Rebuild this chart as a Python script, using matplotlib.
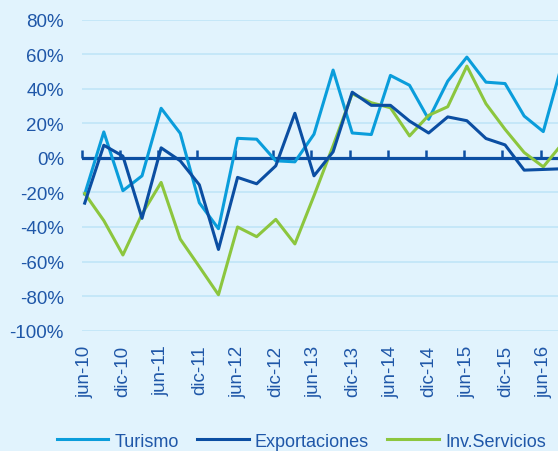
import matplotlib
matplotlib.use("Agg")
import matplotlib.pyplot as plt
import matplotlib.transforms as mtransforms
import numpy as np

periods = ["jun-10", "sep-10", "dic-10", "mar-11", "jun-11", "sep-11", "dic-11", "mar-12",
           "jun-12", "sep-12", "dic-12", "mar-13", "jun-13", "sep-13", "dic-13", "mar-14",
           "jun-14", "sep-14", "dic-14", "mar-15", "jun-15", "sep-15", "dic-15", "mar-16",
           "jun-16", "sep-16"]
turismo = [-21, 15, -19, -10.4, 28.7, 14.2, -26, -41, 11.3, 10.8, -1.7, -2.3, 13.7,
           50.8, 14.4, 13.5, 47.7, 42, 22.3, 44.4, 58.3, 43.8, 43, 24.2, 15.2, 55]
exportaciones = [-26.2, 7.3, 1, -35, 5.8, -1.7, -15.6, -53, -11.3, -15, -4.6, 25.8, -10.4,
                 3.5, 38, 30.4, 30.4, 21.3, 14.4, 23.7, 21.5, 11.2, 7.5, -7.1, -6.7, -6.3]
inv_servicios = [-20.6, -36.3, -56.2, -32.5, -14.2, -47, -63, -79.2, -40, -45.6, -35.6, -49.8,
                 -21.9, 7, 37.1, 31.9, 29, 12.7, 24.6, 29.6, 53.1, 31.3, 16.5, 3.1, -5.2, 8.3]
series_names = ["Turismo", "Exportaciones", "Inv.Servicios"]
yticks = [-100, -80, -60, -40, -20, 0, 20, 40, 60, 80]

BG = "#e1f3fd"
C_TUR = "#0a9ddb"
C_EXP = "#0b4ea2"
C_INV = "#8cc63e"
TXT = "#1f57a8"
GRID = "#bde4f7"

plt.rcParams['font.family'] = ['Liberation Sans', 'DejaVu Sans']
plt.rcParams['axes.unicode_minus'] = False

fig = plt.figure(figsize=(5.58, 4.52), dpi=100, facecolor=BG)
ax = fig.add_axes([0.147, 0.2662, 0.853, 0.6882])
ax.set_facecolor(BG)

x = np.arange(len(periods))
ax.axhline(0, color=C_EXP, lw=2.3, zorder=2)
ax.plot(x, turismo, color=C_TUR, lw=2.2, label=series_names[0], zorder=3)
ax.plot(x, exportaciones, color=C_EXP, lw=2.2, label=series_names[1], zorder=4)
ax.plot(x, inv_servicios, color=C_INV, lw=2.2, label=series_names[2], zorder=3)

ax.set_ylim(-100, 80)
ax.set_xlim(-0.14, 24.77)
ax.set_yticks(yticks)
ax.set_yticklabels([f"{v}%" for v in yticks])
ax.yaxis.grid(True, color=GRID, lw=1.1, zorder=0)
ax.set_axisbelow(True)
for s in ax.spines.values():
    s.set_visible(False)
ax.tick_params(axis='y', length=0, pad=13, labelsize=13.5, labelcolor=TXT)

tick_idx = x[::2]
tick_pos = tick_idx - 0.14
ax.set_xticks(tick_pos)
ax.set_xticklabels([periods[i] for i in tick_idx], rotation=90, va='top', ha='center')
ax.tick_params(axis='x', length=0, pad=10, labelsize=13.5, labelcolor=TXT)
offset = mtransforms.ScaledTranslation(3/100, 0, fig.dpi_scale_trans)
for lab in ax.get_xticklabels():
    lab.set_transform(lab.get_transform() + offset)

# tick marks on the zero axis line
zero_loc = (0 - (-100)) / 180
sec = ax.secondary_xaxis(zero_loc)
sec.set_xticks(tick_pos)
sec.set_xticklabels([])
sec.tick_params(axis='x', direction='out', length=5.5, width=1.8, color=C_EXP)
for k in sec.spines:
    sec.spines[k].set_visible(False)

leg = fig.legend(loc='lower center', bbox_to_anchor=(0.54, -0.033), ncol=3, frameon=False,
                 fontsize=13, handlelength=2.85, columnspacing=1.0, handletextpad=0.35)
for t in leg.get_texts():
    t.set_color(TXT)

fig.savefig("out.png", dpi=100, facecolor=BG)
